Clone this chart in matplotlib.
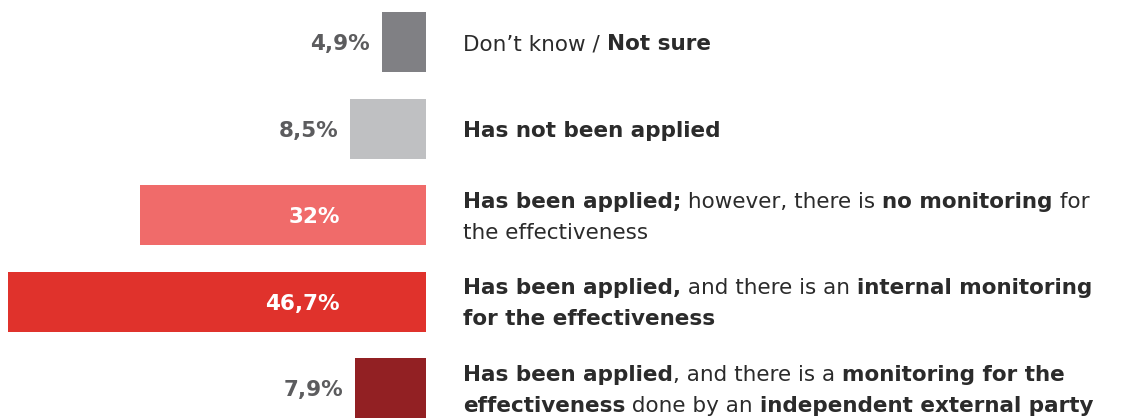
import numpy as np
import matplotlib.pyplot as plt
import matplotlib.transforms as mtransforms

# 数据
values = [4.9, 8.5, 32.0, 46.7, 7.9]
value_labels = ["4,9%", "8,5%", "32%", "46,7%", "7,9%"]
colors = ["#808084", "#bfc0c2", "#f06b6a", "#e0322c", "#922023"]

# 每个类别的说明文字: 每行是若干 (文字, 是否加粗)
labels = [
    [[("Don\u2019t know / ", False), ("Not sure", True)]],
    [[("Has not been applied", True)]],
    [[("Has been applied;", True), (" however, there is ", False), ("no monitoring", True), (" for", False)],
     [("the effectiveness", False)]],
    [[("Has been applied,", True), (" and there is an ", False), ("internal monitoring", True)],
     [("for the effectiveness", True)]],
    [[("Has been applied", True), (", and there is a ", False), ("monitoring for the", True)],
     [("effectiveness", True), (" done by an ", False), ("independent external party", True)]],
]

W, H = 1127, 419
px_per_pct = 8.95
x0 = 426          # 柱子右端(像素)
row_px = 86.5
first_center = 42

fig = plt.figure(figsize=(W / 100, H / 100), dpi=100)
ax = fig.add_axes([0, 0, 1, 1])
ax.set_xlim(x0 / px_per_pct, -(W - x0) / px_per_pct)
ax.set_ylim((H - first_center) / row_px, -first_center / row_px)
ax.axis("off")

y = np.arange(len(values))
ax.barh(y, values, height=60 / row_px, color=colors)

font = "DejaVu Sans"
fs = 15.5
px = 1 / row_px  # 一个像素对应的 y 数据量

# 百分比标签
inside_x = (x0 - 340) / px_per_pct
for i, (v, lab) in enumerate(zip(values, value_labels)):
    if v > 20:
        ax.text(inside_x, i + 8 * px, lab, ha="right", va="baseline", color="white",
                fontsize=fs, fontweight="bold", family=font)
    else:
        ax.text(v + 12 / px_per_pct, i + 8 * px, lab, ha="right", va="baseline",
                color="#5c5c5e", fontsize=fs, fontweight="bold", family=font)

# 右侧说明文字(混合粗细)
fig.canvas.draw()
renderer = fig.canvas.get_renderer()
text_x = -(463 - x0) / px_per_pct
for i, lines in enumerate(labels):
    if len(lines) == 1:
        bases = [i + 8 * px]
    else:
        bases = [i - 7.5 * px, i + 23.5 * px]
    for base, parts in zip(bases, lines):
        tr = ax.transData
        for s, bold in parts:
            t = ax.text(text_x, base, s, transform=tr, ha="left", va="baseline",
                        fontsize=fs, fontweight="bold" if bold else "normal",
                        color="#2b2b2b", family=font)
            ext = t.get_window_extent(renderer)
            # 下一段接在这一段后面
            tr = mtransforms.offset_copy(t.get_transform(), fig=fig,
                                         x=ext.width, units="dots")

fig.savefig("out.png", dpi=100)
